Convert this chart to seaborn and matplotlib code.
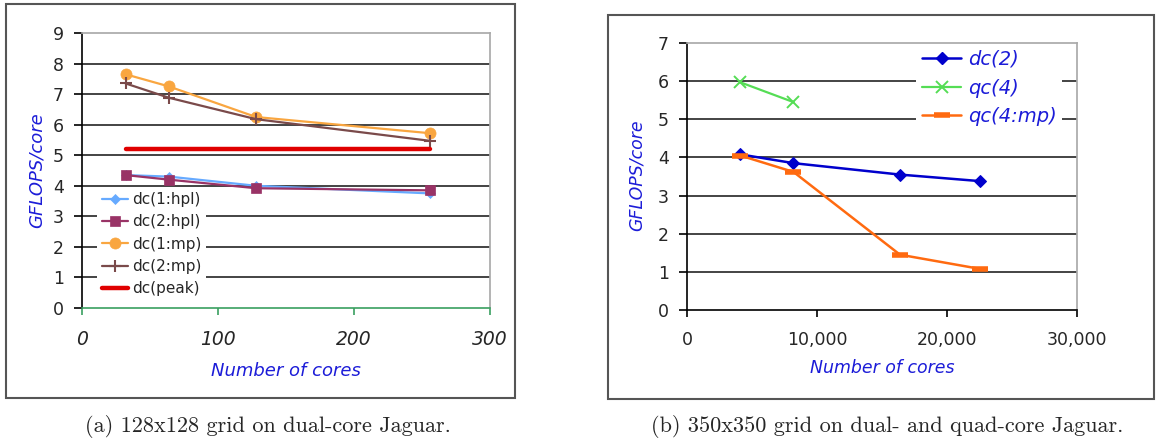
import matplotlib
matplotlib.use("Agg")
import matplotlib.pyplot as plt
from matplotlib.patches import Rectangle
from matplotlib.lines import Line2D
import matplotlib.ticker as mticker
import seaborn as sns
import pandas as pd

sns.set_theme(style="white")
plt.rcParams['font.family'] = ['DejaVu Sans']

# ---- data: panel (a) ----
cores_a = [32, 64, 128, 256]
dc1_hpl = [4.35, 4.30, 4.00, 3.75]
dc2_hpl = [4.35, 4.20, 3.92, 3.85]
dc1_mp = [7.65, 7.25, 6.25, 5.72]
dc2_mp = [7.35, 6.88, 6.18, 5.47]
peak_x = [32, 256]
peak_y = [5.2, 5.2]
labels_a = ["dc(1:hpl)", "dc(2:hpl)", "dc(1:mp)", "dc(2:mp)", "dc(peak)"]

# ---- data: panel (b) ----
cores_b = [4096, 8192, 16384, 22500]
dc2_b = [4.08, 3.85, 3.55, 3.38]
cores_qc = [4096, 8192]
qc4 = [5.97, 5.45]
qc4_mp = [4.05, 3.62, 1.45, 1.08]
labels_b = ["dc(2)", "qc(4)", "qc(4:mp)"]

captions = ["(a) 128x128 grid on dual-core Jaguar.",
            "(b) 350x350 grid on dual- and quad-core Jaguar."]

BLUE_TXT = '#1c1cd8'

fig = plt.figure(figsize=(11.56, 4.41), dpi=100)
W, H = 1156, 441

def px_rect(x0, y0, x1, y1):
    return [x0 / W, 1 - y1 / H, (x1 - x0) / W, (y1 - y0) / H]

# outer boxes
for (x0, y0, x1, y1) in [(6, 4, 515, 398), (608, 15, 1154, 399)]:
    fig.patches.append(Rectangle((x0 / W, 1 - y1 / H), (x1 - x0) / W, (y1 - y0) / H,
                                 transform=fig.transFigure, fill=False,
                                 edgecolor='#555555', linewidth=1.5))

axA = fig.add_axes(px_rect(82, 33, 490, 308))
axB = fig.add_axes(px_rect(687, 43, 1077, 310))

def style_axes(ax, ymax, bottom_color, xpad):
    ax.set_facecolor('white')
    ax.set_ylim(0, ymax)
    ax.set_yticks(range(0, ymax + 1))
    for y in range(1, ymax):
        ax.axhline(y, color='#111111', lw=1.1, zorder=1)
    ax.spines['left'].set_color('black')
    ax.spines['left'].set_linewidth(1.2)
    ax.spines['top'].set_color('#aaaaaa')
    ax.spines['right'].set_color('#aaaaaa')
    ax.spines['bottom'].set_color(bottom_color)
    ax.spines['bottom'].set_linewidth(1.2)
    ax.tick_params(axis='y', direction='out', length=6, width=1.2, color='black',
                   labelsize=12.5, pad=7, left=True)
    ax.tick_params(axis='x', direction='out', length=5, width=1.2, color=bottom_color,
                   labelsize=12.5, pad=xpad, bottom=True)
    ax.grid(False)

# ---- panel (a) ----
style_axes(axA, 9, '#3aa060', 11)
axA.set_xlim(0, 300)
axA.set_xticks([0, 100, 200, 300])
for t in axA.get_xticklabels():
    t.set_fontstyle('italic')
    t.set_fontsize(13.5)

df_a = pd.DataFrame({"x": cores_a, "dc1_hpl": dc1_hpl, "dc2_hpl": dc2_hpl,
                     "dc1_mp": dc1_mp, "dc2_mp": dc2_mp})
specs_a = [("dc1_hpl", '#66aaff', 'D', 5, 1.6),
           ("dc2_hpl", '#993366', 's', 7, 1.6),
           ("dc1_mp", '#f9a640', 'o', 8, 1.6),
           ("dc2_mp", '#7a4a4a', '+', 9, 1.6)]
handles_a = []
for col, c, m, ms, lw in specs_a:
    mew = 1.5 if m == '+' else 0.5
    sns.lineplot(data=df_a, x="x", y=col, ax=axA, color=c, marker=m, markersize=ms,
                 linewidth=lw, markeredgecolor=c, markeredgewidth=mew,
                 zorder=3, legend=False)
    handles_a.append(Line2D([], [], color=c, marker=m, markersize=ms, lw=lw,
                            markeredgecolor=c, markeredgewidth=mew))
sns.lineplot(x=peak_x, y=peak_y, ax=axA, color='#e00000', linewidth=3.2, zorder=3, legend=False)
handles_a.append(Line2D([], [], color='#e00000', lw=3.2))
axA.set_ylabel('')
axA.set_xlabel('')
leg = axA.legend(handles_a, labels_a, loc='lower left', bbox_to_anchor=(0.03, 0.015),
                 frameon=True, fontsize=11, handlelength=1.7, handletextpad=0.25,
                 labelspacing=0.48, borderpad=0.3, borderaxespad=0.2)
leg.get_frame().set_facecolor('white')
leg.get_frame().set_edgecolor('none')
leg.get_frame().set_alpha(1)
leg.set_zorder(5)

fig.text(37 / W, 1 - 170 / H, 'GFLOPS/core', rotation=90, color=BLUE_TXT,
         fontsize=13, fontstyle='italic', ha='center', va='center')
fig.text(286 / W, 1 - 371 / H, 'Number of cores', color=BLUE_TXT,
         fontsize=13, fontstyle='italic', ha='center', va='center')

# ---- panel (b) ----
style_axes(axB, 7, 'black', 10)
axB.set_xlim(0, 30000)
axB.set_xticks([0, 10000, 20000, 30000])
axB.xaxis.set_major_formatter(mticker.FuncFormatter(lambda v, p: f"{int(v):,}"))

df_b = pd.DataFrame({"x": cores_b, "dc2": dc2_b, "qc4mp": qc4_mp})
df_q = pd.DataFrame({"x": cores_qc, "qc4": qc4})
sns.lineplot(data=df_b, x="x", y="dc2", ax=axB, color='#0000cc', marker='D', markersize=6.5,
             linewidth=1.8, markeredgecolor='#0000cc', zorder=3, legend=False)
sns.lineplot(data=df_q, x="x", y="qc4", ax=axB, color='#55dd55', marker='x', markersize=8,
             linewidth=1.6, markeredgecolor='#55dd55', markeredgewidth=1.4, zorder=3, legend=False)
sns.lineplot(data=df_b, x="x", y="qc4mp", ax=axB, color='#ff6a10', marker='_', markersize=11,
             linewidth=1.8, markeredgecolor='#ff6a10', markeredgewidth=4, zorder=3, legend=False)
handles_b = [Line2D([], [], color='#0000cc', marker='D', markersize=6.5, lw=1.8),
             Line2D([], [], color='#55dd55', marker='x', markersize=8, lw=1.6, markeredgewidth=1.4),
             Line2D([], [], color='#ff6a10', marker='_', markersize=11, lw=1.8, markeredgewidth=4)]
axB.set_ylabel('')
axB.set_xlabel('')
legB = axB.legend(handles_b, labels_b, loc='upper right', bbox_to_anchor=(0.965, 1.0),
                  frameon=True, fontsize=14, handlelength=2.0, handletextpad=0.35,
                  labelspacing=0.5, borderpad=0.3, borderaxespad=0.05)
legB.get_frame().set_facecolor('white')
legB.get_frame().set_edgecolor('none')
legB.get_frame().set_alpha(1)
legB.set_zorder(5)
for t in legB.get_texts():
    t.set_color(BLUE_TXT)
    t.set_fontstyle('italic')

fig.text(637 / W, 1 - 175 / H, 'GFLOPS/core', rotation=90, color=BLUE_TXT,
         fontsize=12.5, fontstyle='italic', ha='center', va='center')
fig.text(882 / W, 1 - 368 / H, 'Number of cores', color=BLUE_TXT,
         fontsize=12.5, fontstyle='italic', ha='center', va='center')

# captions
fig.text(268 / W, 1 - 426 / H, captions[0], fontfamily='cmr10', fontsize=16,
         ha='center', va='center')
fig.text(887 / W, 1 - 426 / H, captions[1], fontfamily='cmr10', fontsize=16,
         ha='center', va='center')

fig.savefig('out.png', dpi=100)
